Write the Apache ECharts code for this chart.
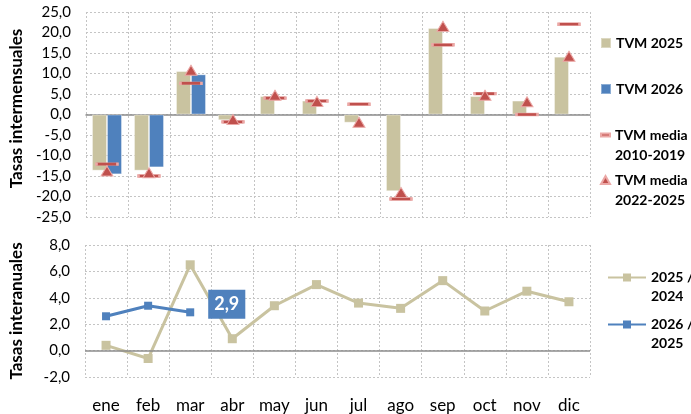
<!DOCTYPE html>
<html>
<head>
<meta charset="utf-8">
<script src="https://cdn.jsdelivr.net/npm/echarts@6/dist/echarts.min.js"></script>
<style>
  html, body { margin: 0; padding: 0; background: #fff; }
  #chart { width: 691px; height: 414px; }
</style>
</head>
<body>
<div id="chart"></div>
<script>
// Months
const months = ['ene', 'feb', 'mar', 'abr', 'may', 'jun', 'jul', 'ago', 'sep', 'oct', 'nov', 'dic'];

// Monthly rates (tasas intermensuales)
const tvm2025 = [-13.7, -13.7, 10.6, -1.4, 4.5, 3.4, -2.0, -18.7, 21.1, 4.5, 3.4, 14.1];
const tvm2026 = [-14.6, -12.9, 9.8, null, null, null, null, null, null, null, null, null];
const tvmMedia1019 = [-12.1, -15.0, 7.6, -1.8, 4.0, 3.3, 2.5, -20.6, 17.0, 5.1, 0.0, 22.0];
const tvmMedia2225 = [-13.8, -14.2, 10.8, -1.2, 4.7, 3.2, -1.9, -19.0, 21.5, 4.7, 3.1, 14.2];

// Year-on-year rates (tasas interanuales)
const ia2025 = [0.4, -0.6, 6.5, 0.9, 3.4, 5.0, 3.6, 3.2, 5.3, 3.0, 4.5, 3.7];
const ia2026 = [2.6, 3.4, 2.9, null, null, null, null, null, null, null, null, null];
const lastIa2026 = 2; // index of the labelled point

// Axis ranges
const topAxis = { min: -25, max: 25, interval: 5 };
const bottomAxis = { min: -2, max: 8, interval: 2 };

const TAN = '#c9c3a0';
const BLUE = '#4f81bd';
const RED = '#c0504d';
const GRID_LINE = { show: true, lineStyle: { color: '#c4c4c4', type: [2, 2], width: 1 } };
const comma = v => v.toFixed(1).replace('.', ',');

const chart = echarts.init(document.getElementById('chart'), null, { renderer: 'canvas' });

const ia2026Data = ia2026.map((v, i) => i === lastIa2026 ? {
  value: v,
  label: {
    show: true, position: 'right', distance: 14, offset: [0, -8],
    formatter: p => comma(p.value),
    color: '#fff', fontWeight: 'bold', fontSize: 18, fontFamily: 'Lato',
    backgroundColor: BLUE, padding: [6, 6, 5, 6]
  }
} : v);

// Two-line legend entries: an empty leading line keeps the icon level with the first line
const firstLineAligned = name => '\n' + name;
const legendText = lh => ({ fontSize: 14, fontWeight: 'bold', color: '#000', lineHeight: lh });

chart.setOption({
  animation: false,
  textStyle: { fontFamily: 'Lato', color: '#000' },
  grid: [
    { left: 85, top: 12, width: 505, height: 205 },
    { left: 85, top: 245, width: 505, height: 132 }
  ],
  xAxis: [
    {
      type: 'category', gridIndex: 0, data: months,
      axisLine: { show: true, onZero: true, lineStyle: { color: '#8c8c8c', width: 1.5 } },
      axisTick: { show: false }, axisLabel: { show: false },
      splitLine: Object.assign({ interval: 0 }, GRID_LINE)
    },
    {
      type: 'category', gridIndex: 1, data: months,
      axisLine: { show: false, onZero: false },
      axisTick: { show: false },
      axisLabel: { show: true, interval: 0, margin: 20, fontSize: 17, color: '#000' },
      splitLine: Object.assign({ interval: 0 }, GRID_LINE)
    }
  ],
  yAxis: [
    {
      type: 'value', gridIndex: 0, min: topAxis.min, max: topAxis.max, interval: topAxis.interval,
      axisLine: { show: false }, axisTick: { show: false },
      axisLabel: { fontSize: 15, color: '#000', margin: 15, formatter: comma },
      splitLine: GRID_LINE,
      name: 'Tasas intermensuales', nameLocation: 'middle', nameGap: 60,
      nameTextStyle: { fontSize: 17, fontWeight: 'bold', color: '#000', padding: [0, 0, 0, 12] }
    },
    {
      type: 'value', gridIndex: 1, min: bottomAxis.min, max: bottomAxis.max, interval: bottomAxis.interval,
      axisLine: { show: false }, axisTick: { show: false },
      axisLabel: { fontSize: 15, color: '#000', margin: 15, formatter: comma },
      splitLine: GRID_LINE,
      name: 'Tasas interanuales', nameLocation: 'middle', nameGap: 60,
      nameTextStyle: { fontSize: 17, fontWeight: 'bold', color: '#000' }
    }
  ],
  legend: [
    { left: 600, top: 33, padding: 0, data: [{ name: 'TVM 2025', icon: 'rect' }],
      itemWidth: 10, itemHeight: 10, textStyle: legendText(20) },
    { left: 600, top: 79, padding: 0, data: [{ name: 'TVM 2026', icon: 'rect' }],
      itemWidth: 10, itemHeight: 10, textStyle: legendText(20) },
    { left: 600, top: 105, padding: 0, data: [{ name: 'TVM media\n2010-2019', icon: 'rect' }],
      itemWidth: 9, itemHeight: 3, formatter: firstLineAligned, textStyle: legendText(20) },
    { left: 600, top: 150, padding: 0, data: [{ name: 'TVM media\n2022-2025', icon: 'triangle' }],
      itemWidth: 9, itemHeight: 8, formatter: firstLineAligned, textStyle: legendText(20) },
    { left: 607, top: 249, padding: 0, data: ['2025 /\n2024'],
      itemWidth: 38, itemHeight: 10, formatter: firstLineAligned, textStyle: legendText(19) },
    { left: 607, top: 296, padding: 0, data: ['2026 /\n2025'],
      itemWidth: 38, itemHeight: 10, formatter: firstLineAligned, textStyle: legendText(19) }
  ],
  series: [
    {
      name: 'TVM 2025', type: 'bar', xAxisIndex: 0, yAxisIndex: 0, data: tvm2025,
      barWidth: 15, barGap: '0%',
      itemStyle: { color: TAN, borderColor: 'rgba(255,255,255,0.35)', borderWidth: 1 }
    },
    {
      name: 'TVM 2026', type: 'bar', xAxisIndex: 0, yAxisIndex: 0, data: tvm2026,
      barWidth: 15, barGap: '0%',
      itemStyle: { color: BLUE, borderColor: 'rgba(255,255,255,0.35)', borderWidth: 1 }
    },
    {
      name: 'TVM media\n2010-2019', type: 'scatter', xAxisIndex: 0, yAxisIndex: 0, data: tvmMedia1019,
      symbol: 'rect', symbolSize: [21, 3], z: 3,
      itemStyle: { color: RED, borderColor: '#eba8a6', borderWidth: 1, opacity: 1 }
    },
    {
      name: 'TVM media\n2022-2025', type: 'scatter', xAxisIndex: 0, yAxisIndex: 0, data: tvmMedia2225,
      symbol: 'triangle', symbolSize: [12, 10], z: 4,
      itemStyle: { color: RED, borderColor: '#eba8a6', borderWidth: 1, opacity: 1 }
    },
    {
      name: '2025 /\n2024', type: 'line', xAxisIndex: 1, yAxisIndex: 1, data: ia2025,
      symbol: 'rect', symbolSize: 9, showAllSymbol: true,
      lineStyle: { color: TAN, width: 3 }, itemStyle: { color: TAN },
      markLine: {
        silent: true, symbol: 'none', label: { show: false },
        lineStyle: { color: '#8c8c8c', width: 1.5, type: 'solid' },
        data: [{ yAxis: 0 }]
      }
    },
    {
      name: '2026 /\n2025', type: 'line', xAxisIndex: 1, yAxisIndex: 1, data: ia2026Data,
      symbol: 'rect', symbolSize: 8, z: 3,
      lineStyle: { color: BLUE, width: 3 }, itemStyle: { color: BLUE }
    }
  ]
});
</script>
</body>
</html>
